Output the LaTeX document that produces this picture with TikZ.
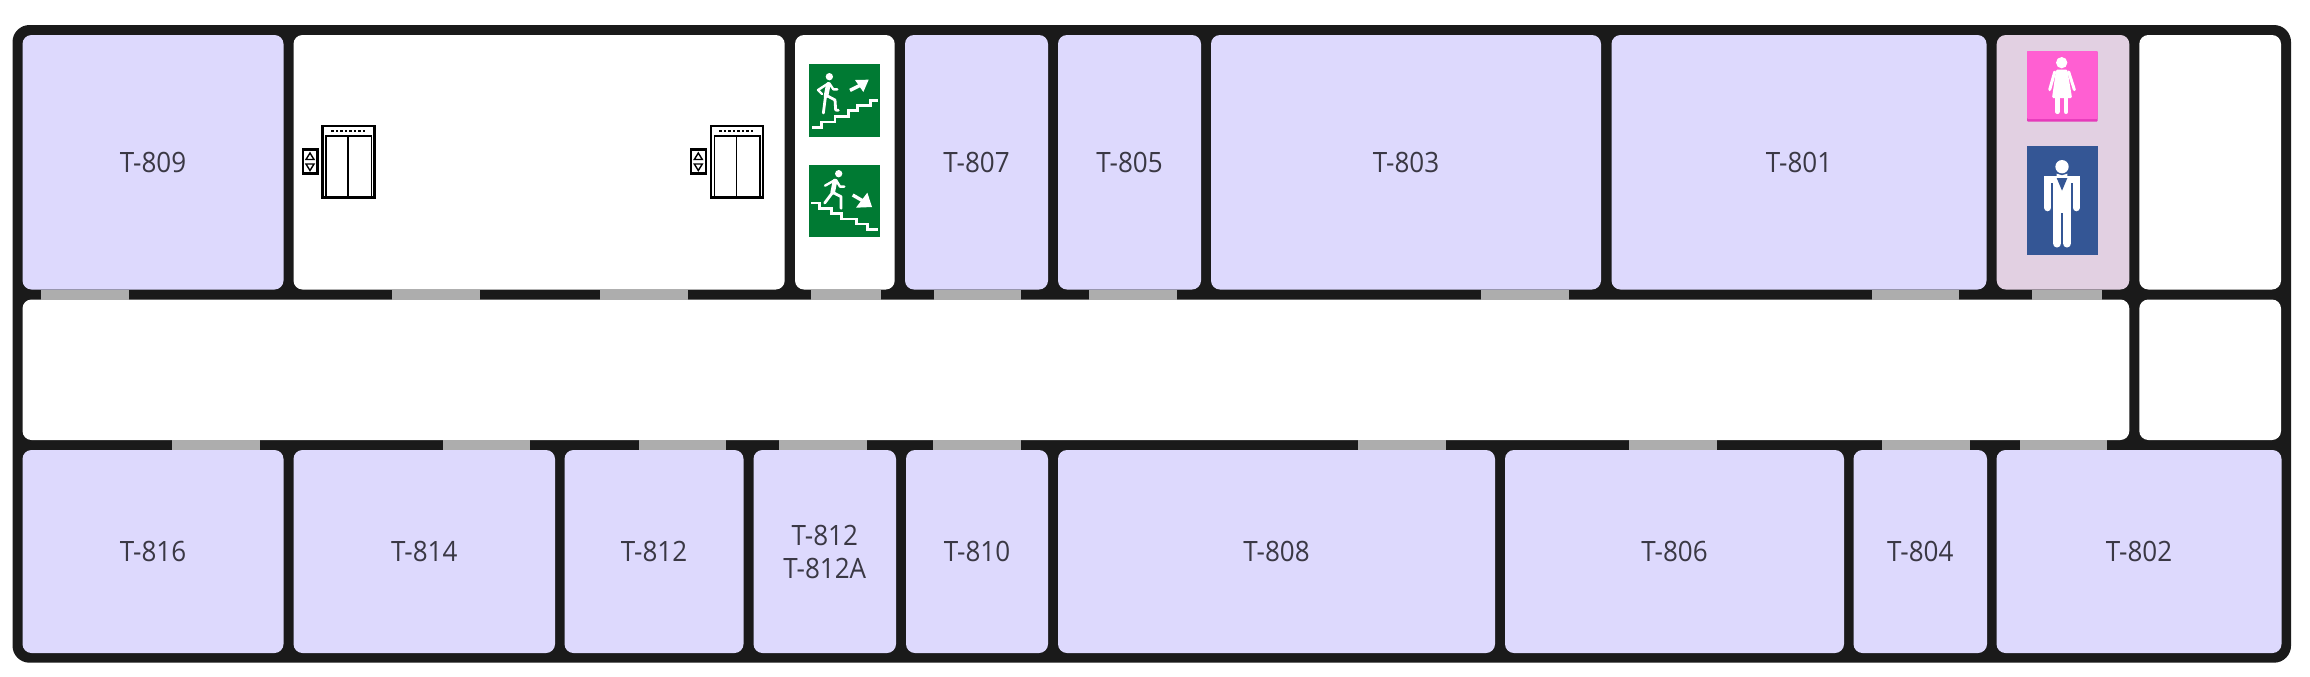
\documentclass[tikz,border=0pt]{standalone}
\usepackage{fontspec}
\setmainfont[FakeStretch=0.93]{Open Sans}
\usepackage{xcolor}
\definecolor{wallblack}{HTML}{1A1A1A}
\definecolor{roomlilac}{HTML}{DDD9FD}
\definecolor{toiletmauve}{HTML}{E2D0E2}
\definecolor{doorgrey}{HTML}{ADADAD}
\definecolor{labelgrey}{HTML}{3A3844}
\definecolor{signgreen}{HTML}{007A33}
\definecolor{signpink}{HTML}{FF5FD2}
\definecolor{signpinkdark}{HTML}{E53ABA}
\definecolor{signblue}{HTML}{345695}
\tikzset{
  room/.style={fill=roomlilac,rounded corners=4.5pt,text=labelgrey,font=\fontsize{14}{16.5}\selectfont,align=center},
  blank/.style={fill=white,rounded corners=4.5pt},
  door/.style={fill=doorgrey},
  icon/.style={draw=black,line width=1.1pt,fill=white},
  iconthin/.style={draw=black,line width=0.8pt},
  figure/.style={draw=white,line cap=round,line join=round},
  stairs/.style={draw=white,line width=1.4pt,line join=miter}
}
\begin{document}
\begin{tikzpicture}[x=0.5pt,y=-0.5pt]
  \path[use as bounding box,fill=white] (0,0) rectangle (2310,676);

  % Outer wall
  \fill[wallblack,rounded corners=8.5pt] (12.5,25) rectangle (2291,662.7);

  % Top row of rooms
  \path[room] (22.5,35) rectangle (283.5,289.5) node[midway] (t809) {T-809};
  \path[blank] (293.5,35) rectangle (784.7,289.5);
  \path[blank] (795,35) rectangle (894.7,289.5);
  \path[room] (905,35) rectangle (1048,289.5) node[midway] (t807) {T-807};
  \path[room] (1058,35) rectangle (1201,289.5) node[midway] (t805) {T-805};
  \path[room] (1211,35) rectangle (1601,289.5) node[midway] (t803) {T-803};
  \path[room] (1611.5,35) rectangle (1986.5,289.5) node[midway] (t801) {T-801};
  \path[room,fill=toiletmauve] (1996.7,35) rectangle (2129.3,289.5);
  \path[blank] (2139.3,35) rectangle (2281,289.5);

  % Corridor and the small room beside it
  \path[blank] (22.5,299.5) rectangle (2129.3,440);
  \path[blank] (2139.3,299.5) rectangle (2281,440);

  % Bottom row of rooms
  \path[room] (22.5,450) rectangle (283.5,653) node[midway] (t816) {T-816};
  \path[room] (293.5,450) rectangle (555,653) node[midway] (t814) {T-814};
  \path[room] (564.5,450) rectangle (743.5,653) node[midway] (t812) {T-812};
  \path[room] (753.5,450) rectangle (896,653) node[midway] (t812a) {T-812\\T-812A};
  \path[room] (906,450) rectangle (1048,653) node[midway] (t810) {T-810};
  \path[room] (1058,450) rectangle (1495,653) node[midway] (t808) {T-808};
  \path[room] (1505,450) rectangle (1844,653) node[midway] (t806) {T-806};
  \path[room] (1853.5,450) rectangle (1987,653) node[midway] (t804) {T-804};
  \path[room] (1996.5,450) rectangle (2281.5,653) node[midway] (t802) {T-802};

  % Doors onto the corridor
  \fill[door] (41.3,289.5) rectangle (129,299.5);
  \fill[door] (392.3,289.5) rectangle (479.7,299.5);
  \fill[door] (600,289.5) rectangle (688,299.5);
  \fill[door] (811,289.5) rectangle (881,299.5);
  \fill[door] (934,289.5) rectangle (1021.3,299.5);
  \fill[door] (1089,289.5) rectangle (1177,299.5);
  \fill[door] (1481,289.5) rectangle (1568.7,299.5);
  \fill[door] (1871.5,289.5) rectangle (1959,299.5);
  \fill[door] (2031.7,289.5) rectangle (2101.7,299.5);

  \fill[door] (172,440) rectangle (260,450);
  \fill[door] (442.6,440) rectangle (530,450);
  \fill[door] (639,440) rectangle (726.4,450);
  \fill[door] (778.7,440) rectangle (866.7,450);
  \fill[door] (933,440) rectangle (1021,450);
  \fill[door] (1358,440) rectangle (1445.6,450);
  \fill[door] (1629.3,440) rectangle (1716.9,450);
  \fill[door] (1881.8,440) rectangle (1969.5,450);
  \fill[door] (2019.7,440) rectangle (2106.7,450);

  % Lifts
  \foreach \liftshift in {0,388.3} {
    \begin{scope}[shift={(\liftshift,0)}]
      \draw[icon] (322.5,126) rectangle (374.5,197.5);
      \draw[iconthin] (326,197.5) -- (326,136) -- (371.5,136) -- (371.5,197.5);
      \draw[iconthin] (348,136) -- (348,197.5);
      \foreach \dotx in {331,335.5,340,344.5,349,353.5,358,362.5}
        \fill[black] (\dotx,129.5) rectangle +(2.5,2.5);
      \draw[icon] (303,149.5) rectangle (317.5,173.5);
      \draw[iconthin,line width=0.7pt] (310,153) -- (314,159.5) -- (306,159.5) -- cycle;
      \draw[iconthin,line width=0.7pt] (310,170.5) -- (314,164) -- (306,164) -- cycle;
    \end{scope}
  }

  % Stair signs
  \begin{scope}[shift={(660,20)},x=0.16667pt,y=-0.16667pt]
    \fill[signgreen] (446,133) rectangle (660,351);
    \fill[white] (508,170) circle (11);
    \draw[figure,line width=2.3pt] (505,193) -- (498,228);
    \draw[figure,line width=1.2pt] (505,190) -- (474,210) -- (486,222);
    \draw[figure,line width=1.2pt] (508,190) -- (520,208) -- (532,208);
    \draw[figure,line width=1.4pt] (497,225) -- (525,240) -- (527,270) -- (535,271);
    \draw[figure,line width=1.4pt] (497,225) -- (490,279);
    \draw[white,line width=1.7pt] (570,211) -- (610,191);
    \fill[white] (585,180) -- (626,179) -- (610,216) -- cycle;
    \draw[stairs] (456,322) -- (485,322) -- (485,306) -- (525,306) -- (525,290) -- (565,290) -- (565,272) -- (592,272) -- (592,256) -- (632,256) -- (632,242) -- (654,242);

    \fill[signgreen] (446,435) rectangle (660,651);
    \fill[white] (536,461) circle (11);
    \draw[figure,line width=2.3pt] (525,483) -- (518,517);
    \draw[figure,line width=1.2pt] (525,480) -- (495,497);
    \draw[figure,line width=1.2pt] (528,480) -- (540,500) -- (553,500);
    \draw[figure,line width=1.4pt] (518,517) -- (494,549);
    \draw[figure,line width=1.4pt] (518,517) -- (543,530) -- (543,565);
    \draw[white,line width=1.7pt] (578,525) -- (618,548);
    \fill[white] (588,563) -- (636,561) -- (622,518) -- cycle;
    \draw[stairs] (453,549) -- (478,549) -- (478,565) -- (515,565) -- (515,581) -- (545,581) -- (545,597) -- (590,597) -- (590,612) -- (622,612) -- (622,628) -- (654,628);
  \end{scope}

  % Toilet signs
  \begin{scope}[shift={(1960,20)},x=0.16667pt,y=-0.16667pt]
    \fill[signpinkdark,rounded corners=0.5pt] (201,93) rectangle (413,305);
    \fill[signpink,rounded corners=0.5pt] (201,93) rectangle (413,297);
    \fill[white] (305,128) circle (17);
    \fill[white,rounded corners=0.6pt] (288,149) -- (322,149) -- (336,234) -- (276,234) -- cycle;
    \draw[figure,line width=1.5pt] (284,156) -- (269,209);
    \draw[figure,line width=1.5pt] (326,156) -- (343,209);
    \draw[figure,line width=2.4pt] (292,232) -- (292,275);
    \draw[figure,line width=2.4pt] (318,232) -- (318,275);

    \fill[signblue] (200,378) rectangle (414,705);
    \fill[white] (306,440) circle (20);
    \draw[figure,line width=3.6pt] (263,480) -- (263,563);
    \draw[figure,line width=3.6pt] (349,480) -- (349,563);
    \fill[white] (252,468) rectangle (360,490);
    \fill[white] (278,468) rectangle (334,580);
    \draw[figure,line width=4.2pt] (291,570) -- (291,670);
    \draw[figure,line width=4.2pt] (321,570) -- (321,670);
    \fill[signblue] (306,512) -- (290,474) -- (322,474) -- cycle;
    \fill[white] (290,461) -- (306,466) -- (322,461) -- (322,473) -- (306,468) -- (290,473) -- cycle;
  \end{scope}
\end{tikzpicture}
\end{document}
